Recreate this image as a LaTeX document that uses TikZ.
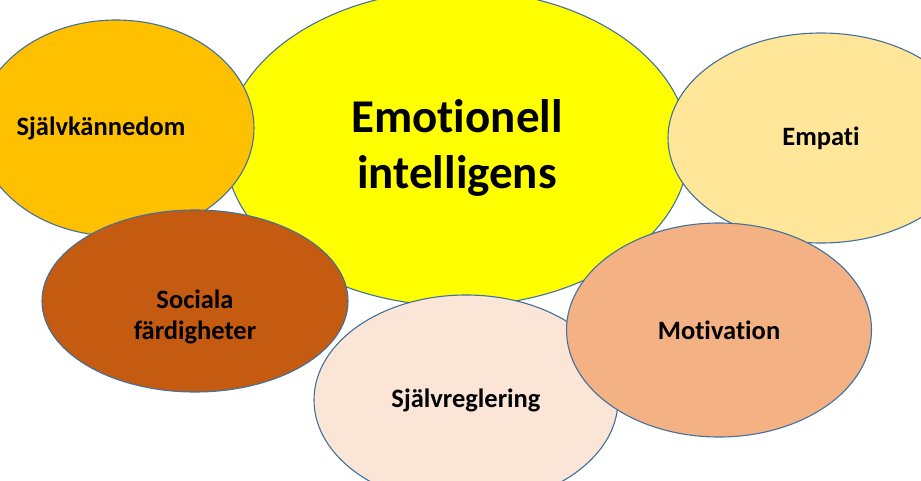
\documentclass[tikz,border=0pt]{standalone}
\usepackage{fontspec}
\setmainfont{Carlito}[Ligatures=NoCommon]
\usetikzlibrary{shapes.geometric}
\definecolor{cYellow}{HTML}{FFFF00}
\definecolor{cOrange}{HTML}{FFC000}
\definecolor{cBrown}{HTML}{C55A11}
\definecolor{cEmpati}{HTML}{FFE699}
\definecolor{cPeach}{HTML}{FBE5D6}
\definecolor{cMotiv}{HTML}{F4B183}
\definecolor{cEdge}{HTML}{41719C}
\tikzset{
  blob/.style={ellipse, draw=cEdge, line width=1.1pt, inner sep=0pt, align=center,
    font=\bfseries\fontsize{26.5}{31}\selectfont, text=black},
  lbl/.style={inner sep=0pt, align=center, font=\bfseries\fontsize{26.5}{31}\selectfont, text=black},
}
\begin{document}
\begin{tikzpicture}[x=1pt,y=-1pt]
\useasboundingbox (0,0) rectangle (921,480);
\clip (0,0) rectangle (921,480);
\fill[white] (0,0) rectangle (921,480);
\node[blob, fill=cYellow, minimum width=464pt, minimum height=316pt,
  font=\bfseries\fontsize{47}{56}\selectfont] (ei) at (457,148) {Emotionell\\intelligens};
\node[blob, fill=cOrange, minimum width=276pt, minimum height=216pt] (sk) at (116,128) {};
\node[lbl] (skt) at ([xshift=-15pt]sk.center) {Självkännedom};
\node[blob, fill=cBrown, minimum width=306pt, minimum height=182pt] (sf) at (195,301) {};
\node[lbl] (sft) at ([yshift=-16pt]sf.center) {Sociala\\färdigheter};
\node[blob, fill=cEmpati, minimum width=306pt, minimum height=210pt] (em) at (821,138) {Empati};
\node[blob, fill=cPeach, minimum width=304pt, minimum height=210pt] (sr) at (466,400) {Självreglering};
\node[blob, fill=cMotiv, minimum width=305pt, minimum height=214pt] (mo) at (719,330) {Motivation};
\end{tikzpicture}
\end{document}
